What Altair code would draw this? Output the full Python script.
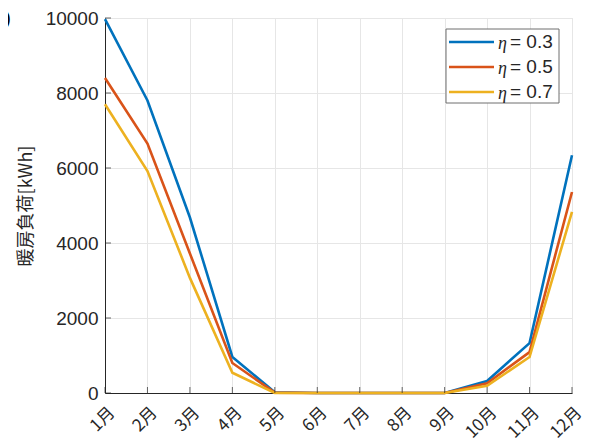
import altair as alt
import pandas as pd

months = ["1月", "2月", "3月", "4月", "5月", "6月", "7月", "8月", "9月", "10月", "11月", "12月"]
series_names = ["η = 0.3", "η = 0.5", "η = 0.7"]
eta_values = ["= 0.3", "= 0.5", "= 0.7"]
load_03 = [9970, 7800, 4680, 960, 20, 0, 0, 0, 0, 320, 1330, 6340]
load_05 = [8400, 6650, 3720, 800, 10, 0, 0, 0, 0, 260, 1090, 5360]
load_07 = [7700, 5920, 3070, 540, 0, 0, 0, 0, 0, 190, 960, 4830]
colors = ["#0072BD", "#D95319", "#EDB120"]
y_ticks = [0, 2000, 4000, 6000, 8000, 10000]

rows = []
for name, vals in zip(series_names, [load_03, load_05, load_07]):
    for m, v in zip(months, vals):
        rows.append({"month": m, "load": v, "series": name})
df = pd.DataFrame(rows)

FONT = "Liberation Sans"
AX = "#262626"

x_enc = alt.X("month:N", sort=months, scale=alt.Scale(type="point", padding=0),
              axis=alt.Axis(title=None, labelAngle=-45, labelAlign="right", labelBaseline="top",
                            labelFontSize=17, labelFont="Noto Sans CJK JP", labelColor=AX,
                            ticks=False, domainColor=AX, domainWidth=1, labelPadding=11,
                            labelOffset=1, labelOverlap=False,
                            gridColor="#e6e6e6", grid=True))
y_enc = alt.Y("load:Q", scale=alt.Scale(domain=[0, 10000], nice=False),
              axis=alt.Axis(title="暖房負荷[kWh]", titleFont="Noto Sans CJK JP", titleFontSize=18,
                            titleFontWeight="normal", titleColor=AX, titlePadding=10,
                            values=y_ticks, format="d", labelFontSize=19, labelFont=FONT, labelColor=AX,
                            ticks=False, domainColor=AX, domainWidth=1, labelPadding=7,
                            gridColor="#e6e6e6", grid=True))

lines = alt.Chart(df).mark_line(strokeWidth=2.6, clip=False).encode(
    x=x_enc,
    y=y_enc,
    color=alt.Color("series:N", sort=series_names,
                    scale=alt.Scale(domain=series_names, range=colors), legend=None),
    order=alt.Order("series:N"),
)

xtick_df = pd.DataFrame({"month": months, "load": [0] * len(months)})
xticks = alt.Chart(xtick_df).mark_tick(orient="vertical", size=6, thickness=1, color=AX, yOffset=-3).encode(
    x=alt.X("month:N", sort=months), y=alt.Y("load:Q"))

ytick_df = pd.DataFrame({"month": [months[0]] * len(y_ticks), "load": y_ticks})
yticks = alt.Chart(ytick_df).mark_tick(orient="horizontal", size=6, thickness=1, color=AX, xOffset=3).encode(
    x=alt.X("month:N", sort=months), y=alt.Y("load:Q"))

one = pd.DataFrame({"k": [0]})

# partial panel label at the top-left corner (cut off in the reference too)
panel_label = alt.Chart(one).mark_text(
    text="(b)", font=FONT, fontSize=21, color="#000000", align="right", baseline="middle"
).encode(x=alt.value(-94), y=alt.value(1))

# manual legend (box, line samples, italic eta, value text)
legend_layers = [
    alt.Chart(one).mark_rect(fill="white", stroke="#6e6e6e", strokeWidth=1).encode(
        x=alt.value(341), x2=alt.value(454), y=alt.value(11), y2=alt.value(85))
]
for i, (name, val, col) in enumerate(zip(series_names, eta_values, colors)):
    yy = 24 + 25 * i
    legend_layers.append(alt.Chart(one).mark_rule(color=col, strokeWidth=2.6).encode(
        x=alt.value(344), x2=alt.value(389), y=alt.value(yy)))
    legend_layers.append(alt.Chart(one).mark_text(
        text="η", font="Liberation Serif", fontStyle="italic", fontSize=18, color=AX,
        align="left", baseline="middle").encode(x=alt.value(393), y=alt.value(yy + 2)))
    legend_layers.append(alt.Chart(one).mark_text(
        text=val, font=FONT, fontSize=19, color=AX,
        align="left", baseline="middle").encode(x=alt.value(405), y=alt.value(yy)))

chart = alt.layer(lines, xticks, yticks, panel_label, *legend_layers).properties(
    width=467, height=375,
    autosize=alt.AutoSizeParams(type="none"),
    padding={"left": 97, "top": 10, "right": 14, "bottom": 51},
).configure_view(stroke=None).configure(background="white")

chart.save("out.html", embed_options={"renderer": "svg", "actions": False})
